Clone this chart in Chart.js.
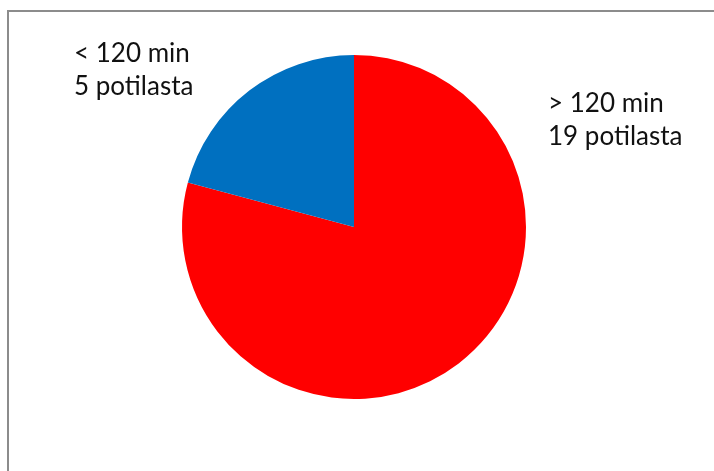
<!DOCTYPE html>
<html>
<head>
<meta charset="utf-8">
<script src="https://cdn.jsdelivr.net/npm/chart.js@4"></script>
<style>
  html, body { margin: 0; padding: 0; background: #fff; }
  #wrap { position: relative; width: 714px; height: 471px; }
  #frame { position: absolute; left: 7px; top: 10px; right: -4px; bottom: -4px;
           border-left: 2px solid #8c8c8c; border-top: 2px solid #8c8c8c; }
  canvas { position: absolute; left: 0; top: 0; }
</style>
</head>
<body>
<div id="wrap">
  <div id="frame"></div>
  <canvas id="pieChart" width="714" height="471"></canvas>
</div>
<script>
// Potilaat jaoteltuna viiveen mukaan
const categories = ['> 120 min', '< 120 min'];
const patients = [19, 5];
const sliceColors = ['#ff0000', '#0070c0'];
// tekstien paikat (vasen reuna, ensimmäinen perusviiva)
const labelPos = [[548, 112], [74, 62]];

const sliceLabels = {
    id: 'sliceLabels',
    afterDraw(chart) {
        const ctx = chart.ctx;
        ctx.save();
        ctx.font = '26px Lato';
        ctx.fillStyle = '#111';
        ctx.textAlign = 'left';
        ctx.textBaseline = 'alphabetic';
        categories.forEach((c, i) => {
            const [x, y] = labelPos[i];
            ctx.fillText(c, x, y);
            ctx.fillText(patients[i] + ' potilasta', x, y + 33);
        });
        ctx.restore();
    }
};

const pieCtx = document.getElementById('pieChart').getContext('2d');
new Chart(pieCtx, {
    type: 'pie',
    data: {
        labels: categories,
        datasets: [{
            data: patients,
            backgroundColor: sliceColors,
            borderWidth: 0
        }]
    },
    options: {
        responsive: false,
        animation: false,
        layout: { padding: { left: 182, right: 188, top: 55, bottom: 72 } },
        plugins: { legend: { display: false }, tooltip: { enabled: false } }
    },
    plugins: [sliceLabels]
});
</script>
</body>
</html>
